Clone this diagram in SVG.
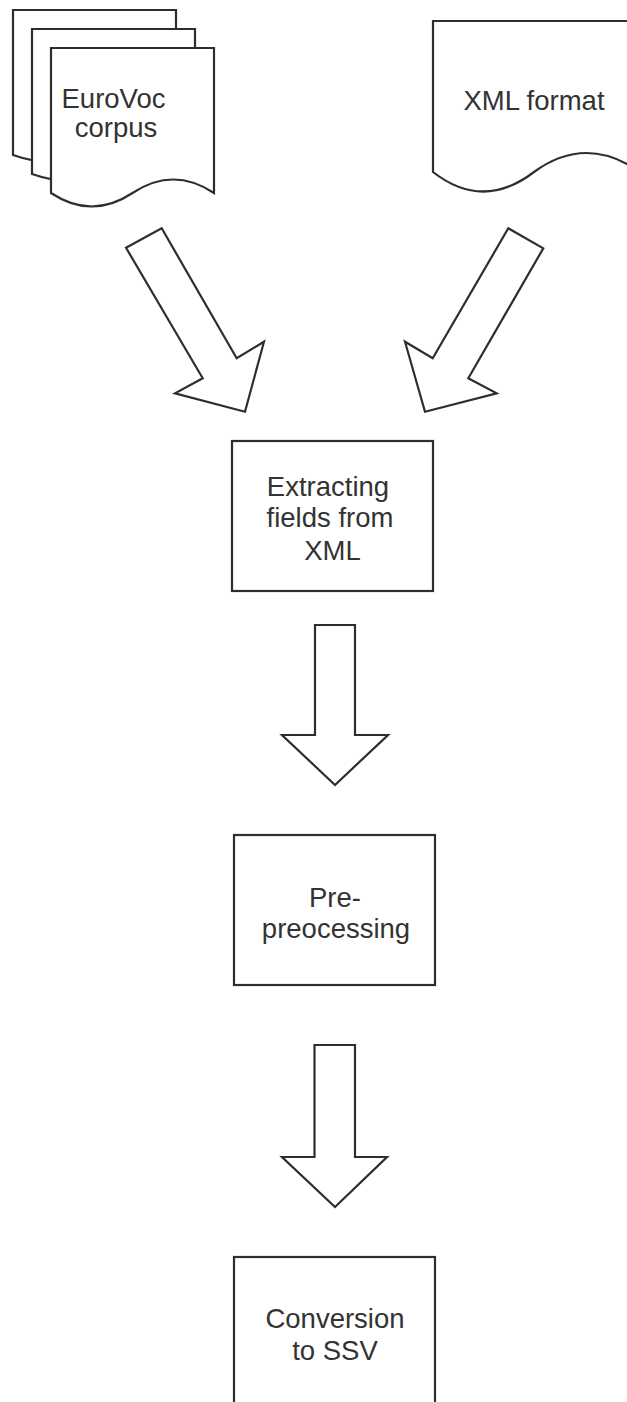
<svg xmlns="http://www.w3.org/2000/svg" width="627" height="1402" viewBox="0 0 627 1402">
<style>
.s{fill:#fff;stroke:#2e2e2e;stroke-width:2.2;stroke-linejoin:miter}
.t{font-family:"Liberation Sans",Arial,sans-serif;font-size:27.5px;fill:#333;text-anchor:middle}
</style>
<rect width="627" height="1402" fill="#fff"/>
<g id="eurovoc">
<path class="s" d="M13,10 H176 V155 Q135.25,130.5 94.5,155 Q53.75,169.5 13,155 Z"/>
<path class="s" d="M32,29 H195 V174 Q154.25,149.5 113.5,174 Q72.75,188.5 32,174 Z"/>
<path class="s" d="M51,48 H214 V193 Q173.25,166 132.5,193 Q91.75,220 51,193 Z"/>
<text class="t" x="113.5" y="108">EuroVoc</text>
<text class="t" x="116" y="137">corpus</text>
</g>
<g id="xmlformat">
<path class="s" d="M433,21 H640 V172 Q586,134 534,172 Q483,211 433,172 Z"/>
<text class="t" x="534" y="110">XML format</text>
</g>
<g id="extract">
<rect class="s" x="232" y="441" width="201" height="150"/>
<text class="t" x="328" y="495.5">Extracting</text>
<text class="t" x="330" y="527">fields from</text>
<text class="t" x="332.5" y="559.5">XML</text>
</g>
<g id="preproc">
<rect class="s" x="234" y="835" width="201" height="150"/>
<text class="t" x="335" y="907">Pre-</text>
<text class="t" x="336" y="938">preocessing</text>
</g>
<g id="convert">
<rect class="s" x="234" y="1257" width="201" height="200"/>
<text class="t" x="335" y="1328">Conversion</text>
<text class="t" x="335" y="1360">to SSV</text>
</g>
<g id="connectors">
<polygon class="s" points="126,247.7 161.7,228.3 236.7,358.3 264,341.7 245,411.7 175,393.3 202.7,378.3"/>
<polygon class="s" points="508.3,228.3 543.3,248.3 468.3,378.3 496.7,393.3 425,411.7 405,341.7 432.7,358.3"/>
<polygon class="s" points="315,625 355,625 355,735 388,735 335,785 282,735 315,735"/>
<polygon class="s" points="314.5,1045 355,1045 355,1157 387,1157 335,1207 282,1157 314.5,1157"/>
</g>
</svg>
